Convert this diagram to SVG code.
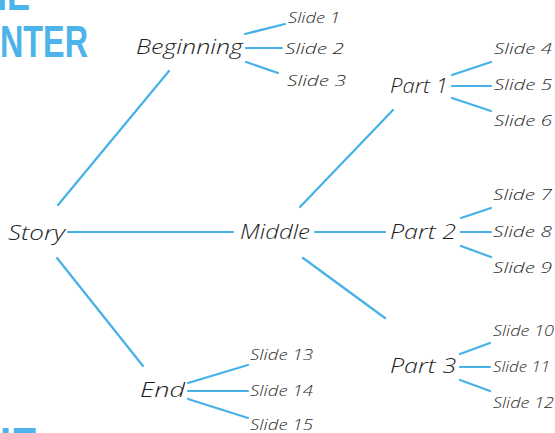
<svg xmlns="http://www.w3.org/2000/svg" width="555" height="433" viewBox="0 0 555 433">
  <style>
    .bg { fill: #ffffff; }
    .brand { font-family: "Liberation Sans", Arial, sans-serif; font-weight: bold; font-size: 44px; fill: #4cb4ea; }
    .lbl { font-family: "Open Sans", "Noto Sans", sans-serif; font-style: italic; font-weight: 300; fill: #1e1e1e; dominant-baseline: central; }
    .big { font-size: 21px; }
    .small { font-size: 15px; fill: #2a2a2a; }
    #connectors line { stroke: #45b1e7; stroke-width: 2.2; stroke-linecap: round; }
  </style>
  <rect class="bg" width="555" height="433"/>

  <!-- cropped heading lettering at the left edge -->
  <text class="brand" x="-18" y="10" textLength="48" lengthAdjust="spacingAndGlyphs">HE</text>
  <text class="brand" x="0" y="57" textLength="88" lengthAdjust="spacingAndGlyphs">NTER</text>
  <text class="brand" x="-18" y="459" textLength="56" lengthAdjust="spacingAndGlyphs">HE</text>

  <g id="connectors">
    <!-- Story branches -->
    <line x1="58" y1="205" x2="169" y2="71"/>
    <line x1="68" y1="232" x2="233" y2="232"/>
    <line x1="57" y1="258" x2="143" y2="366"/>
    <!-- Beginning -->
    <line x1="245" y1="34" x2="285" y2="24"/>
    <line x1="246" y1="48" x2="282" y2="48"/>
    <line x1="246" y1="62" x2="278" y2="73"/>
    <!-- Middle -->
    <line x1="300" y1="207" x2="393" y2="110"/>
    <line x1="315" y1="232" x2="385" y2="232"/>
    <line x1="303" y1="258" x2="385" y2="318"/>
    <!-- Part 1 -->
    <line x1="452" y1="75" x2="491" y2="62"/>
    <line x1="452" y1="86" x2="491" y2="86"/>
    <line x1="452" y1="98" x2="491" y2="111"/>
    <!-- Part 2 -->
    <line x1="461" y1="218" x2="491" y2="208"/>
    <line x1="461" y1="232" x2="491" y2="232"/>
    <line x1="461" y1="246" x2="491" y2="257"/>
    <!-- Part 3 -->
    <line x1="460" y1="354" x2="490" y2="343"/>
    <line x1="460" y1="367" x2="490" y2="367"/>
    <line x1="460" y1="380" x2="490" y2="391"/>
    <!-- End -->
    <line x1="188" y1="383" x2="248" y2="365"/>
    <line x1="188" y1="391" x2="248" y2="391"/>
    <line x1="188" y1="399" x2="248" y2="418"/>
  </g>

  <g id="story"><text class="lbl big" x="8" y="232" textLength="57" lengthAdjust="spacingAndGlyphs">Story</text></g>
  <g id="beginning"><text class="lbl big" x="136" y="46" textLength="107" lengthAdjust="spacingAndGlyphs">Beginning</text></g>
  <g id="middle"><text class="lbl big" x="240" y="231" textLength="70" lengthAdjust="spacingAndGlyphs">Middle</text></g>
  <g id="end"><text class="lbl big" x="140" y="389" textLength="45" lengthAdjust="spacingAndGlyphs">End</text></g>
  <g id="part1"><text class="lbl big" x="390" y="85" textLength="58" lengthAdjust="spacingAndGlyphs">Part 1</text></g>
  <g id="part2"><text class="lbl big" x="390" y="231" textLength="66" lengthAdjust="spacingAndGlyphs">Part 2</text></g>
  <g id="part3"><text class="lbl big" x="390" y="365" textLength="66" lengthAdjust="spacingAndGlyphs">Part 3</text></g>

  <g id="slide1"><text class="lbl small" x="288" y="17" textLength="52" lengthAdjust="spacingAndGlyphs">Slide 1</text></g>
  <g id="slide2"><text class="lbl small" x="285" y="48" textLength="59" lengthAdjust="spacingAndGlyphs">Slide 2</text></g>
  <g id="slide3"><text class="lbl small" x="287" y="80" textLength="59" lengthAdjust="spacingAndGlyphs">Slide 3</text></g>
  <g id="slide4"><text class="lbl small" x="494" y="48" textLength="58" lengthAdjust="spacingAndGlyphs">Slide 4</text></g>
  <g id="slide5"><text class="lbl small" x="494" y="84" textLength="58" lengthAdjust="spacingAndGlyphs">Slide 5</text></g>
  <g id="slide6"><text class="lbl small" x="494" y="120" textLength="58" lengthAdjust="spacingAndGlyphs">Slide 6</text></g>
  <g id="slide7"><text class="lbl small" x="493" y="194" textLength="59" lengthAdjust="spacingAndGlyphs">Slide 7</text></g>
  <g id="slide8"><text class="lbl small" x="493" y="231" textLength="59" lengthAdjust="spacingAndGlyphs">Slide 8</text></g>
  <g id="slide9"><text class="lbl small" x="493" y="267" textLength="59" lengthAdjust="spacingAndGlyphs">Slide 9</text></g>
  <g id="slide10"><text class="lbl small" x="493" y="330" textLength="61" lengthAdjust="spacingAndGlyphs">Slide 10</text></g>
  <g id="slide11"><text class="lbl small" x="493" y="366" textLength="57" lengthAdjust="spacingAndGlyphs">Slide 11</text></g>
  <g id="slide12"><text class="lbl small" x="493" y="402" textLength="61" lengthAdjust="spacingAndGlyphs">Slide 12</text></g>
  <g id="slide13"><text class="lbl small" x="250" y="354" textLength="63" lengthAdjust="spacingAndGlyphs">Slide 13</text></g>
  <g id="slide14"><text class="lbl small" x="250" y="390" textLength="63" lengthAdjust="spacingAndGlyphs">Slide 14</text></g>
  <g id="slide15"><text class="lbl small" x="250" y="424" textLength="63" lengthAdjust="spacingAndGlyphs">Slide 15</text></g>
</svg>
